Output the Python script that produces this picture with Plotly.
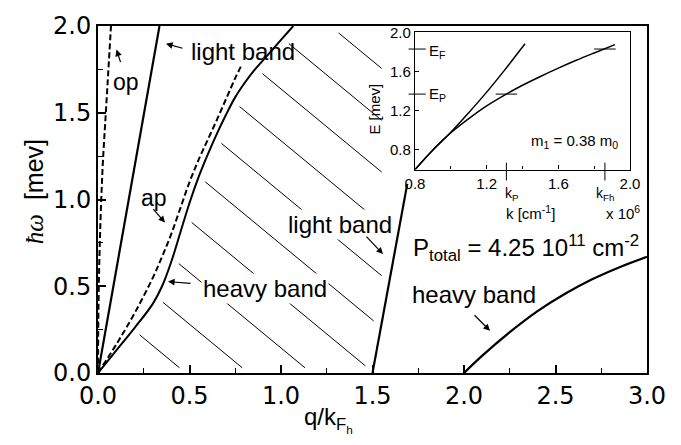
import numpy as np
import plotly.graph_objects as go

# ---------------- data ----------------
# main panel: q/k_Fh  vs  hbar*omega [meV]
op_q = [0.0, 0.003, 0.011, 0.025, 0.044, 0.071]
op_w = [0.0, 0.41, 0.79, 1.18, 1.52, 2.0]

light_up_q = [0.0, 0.166, 0.336]
light_up_w = [0.0, 1.0, 2.0]

ap_q = [0.0, 0.1, 0.2, 0.3, 0.35, 0.4, 0.45, 0.5, 0.55, 0.6, 0.65, 0.7, 0.75, 0.785]
ap_w = [0.0, 0.165, 0.345, 0.55, 0.67, 0.80, 0.95, 1.10, 1.23, 1.345, 1.46, 1.58, 1.70, 1.775]

heavy_q = [0.0, 0.1, 0.2, 0.3, 0.35, 0.4, 0.45, 0.5, 0.55, 0.6, 0.65, 0.7, 0.75,
           0.8, 0.85, 0.9, 0.95, 1.0, 1.067]
heavy_w = [0.0, 0.13, 0.26, 0.40, 0.50, 0.64, 0.81, 0.98, 1.13, 1.26, 1.38, 1.49, 1.59,
           1.67, 1.74, 1.80, 1.86, 1.92, 2.0]

light_lo_q = [1.5, 1.69]
light_lo_w = [0.0, 1.09]

heavy_lo_q = [2.0, 2.1, 2.25, 2.4, 2.55, 2.7, 2.85, 3.0]
heavy_lo_w = [0.0, 0.10, 0.235, 0.355, 0.455, 0.54, 0.61, 0.67]

# inset: k [10^6 cm^-1] vs E [meV]
inset_a_k = [0.8, 0.9, 1.0, 1.1, 1.2, 1.3, 1.414]
inset_a_E = [0.6, 0.80, 0.98, 1.18, 1.39, 1.615, 1.884]
inset_b_k = [0.8, 0.9, 1.0, 1.1, 1.2, 1.3, 1.4, 1.5, 1.6, 1.7, 1.8, 1.916]
inset_b_E = [0.6, 0.80, 0.975, 1.12, 1.25, 1.36, 1.46, 1.55, 1.635, 1.715, 1.79, 1.875]
E_F = 1.83
E_P = 1.37
k_P = 1.31
k_Fh = 1.86

main_xticks = [0.0, 0.5, 1.0, 1.5, 2.0, 2.5, 3.0]
main_yticks = [0.0, 0.5, 1.0, 1.5, 2.0]
inset_xticks = [0.8, 1.2, 1.6, 2.0]
inset_yticks = [0.8, 1.2, 1.6, 2.0]

# ---------------- geometry helpers ----------------
W, H = 681, 445
ML, MR, MT, MB = 98, 34, 20, 72
PW, PH = W - ML - MR, H - MT - MB


def px(x, y):
    """pixel position -> paper coordinates"""
    return (x - ML) / PW, (H - MB - y) / PH


BLACK = "black"
SANS = "Liberation Sans, Arial, sans-serif"
TICKF = "DejaVu Sans, sans-serif"

fig = go.Figure()

# ---------------- hatching (procedural) ----------------
h_slope = 0.871      # d(omega)/dq of hatch lines (negative direction)
h_b0, h_step, h_n = 0.418, 0.2986, 10
gap_curve, gap_line, q_cap, w_floor, w_top = 0.035, 0.04, 1.55, 0.03, 1.96
qq = np.linspace(0, 1.067, 2000)
hw = np.interp(qq, heavy_q, heavy_w)
m_lo = (light_lo_w[1] - light_lo_w[0]) / (light_lo_q[1] - light_lo_q[0])
hx, hy = [], []
for k in range(h_n):
    b = h_b0 + k * h_step
    diff = hw - (b - h_slope * qq)
    idx = np.where(diff >= 0)[0]
    q_int = qq[idx[0]] if len(idx) else (b - 2.0) / h_slope
    q_s = q_int + gap_curve
    if b - h_slope * q_s > w_top:
        q_s = (b - w_top) / h_slope
    q_bot = (b - w_floor) / h_slope
    q_lb = (b + m_lo * light_lo_q[0]) / (h_slope + m_lo) - gap_line
    q_e = min(q_bot, q_lb, q_cap)
    if q_e <= q_s:
        continue
    hx += [q_s, q_e, None]
    hy += [b - h_slope * q_s, b - h_slope * q_e, None]

fig.add_trace(go.Scatter(x=hx, y=hy, mode="lines", line=dict(color=BLACK, width=1),
                         hoverinfo="skip", showlegend=False))

# ---------------- main curves ----------------
dash = "6px,3px"
fig.add_trace(go.Scatter(x=op_q, y=op_w, mode="lines", line=dict(color=BLACK, width=2, dash=dash, shape="spline"), showlegend=False))
fig.add_trace(go.Scatter(x=light_up_q, y=light_up_w, mode="lines", line=dict(color=BLACK, width=2.2), showlegend=False))
fig.add_trace(go.Scatter(x=ap_q, y=ap_w, mode="lines", line=dict(color=BLACK, width=2, dash=dash, shape="spline"), showlegend=False))
fig.add_trace(go.Scatter(x=heavy_q, y=heavy_w, mode="lines", line=dict(color=BLACK, width=2, shape="spline"), showlegend=False))
fig.add_trace(go.Scatter(x=light_lo_q, y=light_lo_w, mode="lines", line=dict(color=BLACK, width=2.2), showlegend=False))
fig.add_trace(go.Scatter(x=heavy_lo_q, y=heavy_lo_w, mode="lines", line=dict(color=BLACK, width=2.2, shape="spline"), showlegend=False))

# ---------------- inset curves ----------------
fig.add_trace(go.Scatter(x=inset_a_k, y=inset_a_E, xaxis="x2", yaxis="y2", mode="lines",
                         line=dict(color=BLACK, width=1.5, shape="spline"), showlegend=False))
fig.add_trace(go.Scatter(x=inset_b_k, y=inset_b_E, xaxis="x2", yaxis="y2", mode="lines",
                         line=dict(color=BLACK, width=1.5, shape="spline"), showlegend=False))
# Fermi-point dashes on the heavy curve
fig.add_trace(go.Scatter(x=[k_P - 0.06, k_P + 0.06, None, k_Fh - 0.06, k_Fh + 0.06],
                         y=[E_P, E_P, None, E_F, E_F], xaxis="x2", yaxis="y2", mode="lines",
                         line=dict(color=BLACK, width=1), showlegend=False))

# ---------------- axes ----------------
common = dict(showgrid=False, zeroline=False, showline=True, linecolor=BLACK, linewidth=2,
              mirror=True, ticks="inside", tickcolor=BLACK, tickwidth=1.5, ticklen=8,
              tickfont=dict(family=TICKF, size=24, color=BLACK))
fig.update_layout(
    xaxis=dict(range=[0, 3], tickvals=main_xticks, ticktext=[f"{v:.1f}" for v in main_xticks],
               minor=dict(ticks="inside", ticklen=5, tickwidth=1, tickcolor=BLACK, dtick=0.25, tick0=0),
               domain=[0, 1], anchor="y", **common),
    yaxis=dict(range=[0, 2], tickvals=main_yticks, ticktext=[f"{v:.1f}" for v in main_yticks],
               minor=dict(ticks="inside", ticklen=5, tickwidth=1, tickcolor=BLACK, dtick=0.25, tick0=0),
               domain=[0, 1], anchor="x", **common),
)

ix0, iy0 = px(415, 166)
ix1, iy1 = px(630, 26.5)
inset_common = dict(showgrid=False, zeroline=False, showline=True, linecolor=BLACK, linewidth=1.2,
                    mirror=True, ticks="inside", tickcolor=BLACK, tickwidth=1, ticklen=4,
                    tickfont=dict(family=SANS, size=15, color=BLACK))
fig.update_layout(
    xaxis2=dict(range=[0.8, 2.0], tickvals=inset_xticks, ticktext=[f"{v:.1f}" for v in inset_xticks],
                minor=dict(ticks="inside", ticklen=3, tickwidth=1, tickcolor=BLACK, dtick=0.2, tick0=0.8),
                domain=[ix0, ix1], anchor="y2", **inset_common),
    yaxis2=dict(range=[0.6, 2.0], tickvals=inset_yticks, ticktext=[f"{v:.1f}" for v in inset_yticks],
                domain=[iy0, iy1], anchor="x2", **inset_common),
)

# inset markers: E_F, E_P on left axis, k_P, k_Fh below bottom axis
shapes = []
for e in (E_F, E_P):
    shapes.append(dict(type="line", xref="x2 domain", yref="y2", x0=-0.03, x1=0.05, y0=e, y1=e,
                       line=dict(color=BLACK, width=1)))
for kk in (k_P, k_Fh):
    shapes.append(dict(type="line", xref="x2", yref="y2 domain", x0=kk, x1=kk, y0=-0.08, y1=0.05,
                       line=dict(color=BLACK, width=1)))
fig.update_layout(shapes=shapes)

# ---------------- annotations ----------------
ann = []


def text(x, y, s, size=24, xanchor="center", angle=0, bg=None, family=SANS):
    X, Y = px(x, y)
    d = dict(x=X, y=Y, xref="paper", yref="paper", text=s, showarrow=False, xanchor=xanchor,
             yanchor="middle", textangle=angle, font=dict(family=family, size=size, color=BLACK))
    if bg:
        d["bgcolor"] = bg
    ann.append(d)


def arrow(tail, head):
    X, Y = px(*head)
    ann.append(dict(x=X, y=Y, xref="paper", yref="paper", text="", showarrow=True,
                    ax=tail[0] - head[0], ay=tail[1] - head[1], arrowhead=2, arrowsize=1.1,
                    arrowwidth=1.2, arrowcolor=BLACK, standoff=0, startstandoff=0))


text(126, 77, "op", size=23)
arrow((121, 58), (116.5, 44))
text(243, 46, "light band", size=24)
arrow((184, 43), (166, 38))
text(154, 195, "ap", size=23)
arrow((152, 205), (165, 220))
text(265, 287, "heavy band", size=24, bg="white")
arrow((192, 282), (168, 280))
text(340, 222, "light band", size=24, bg="white")
arrow((365, 233), (383, 252))
text(411, 246, "P<sub>total</sub> = 4.25 10<sup>11</sup> cm<sup>-2</sup>", size=24, xanchor="left")
text(474, 293, "heavy band", size=24)
arrow((473, 313), (490, 330))

# axis titles
text(34, 189, '<span style="font-family:Liberation Serif"><i>ħω</i></span>  [mev]', size=25, angle=-90)
text(302, 420, "q/k<sub>F<sub>h</sub></sub>", size=24, xanchor="left")

# inset texts
text(427, 46, "E<sub>F</sub>", size=15, xanchor="left")
text(427, 90, "E<sub>P</sub>", size=15, xanchor="left")
text(574, 138, "m<sub>1</sub> = 0.38 m<sub>0</sub>", size=15)
text(512, 191, "k<sub>P</sub>", size=14)
text(605, 191, "k<sub>Fh</sub>", size=14)
text(530, 210, "k [cm<sup>-1</sup>]", size=15)
text(623, 210, "x 10<sup>6</sup>", size=15)
text(375, 105, "E [mev]", size=15, angle=-90)

fig.update_layout(annotations=ann)

fig.update_layout(width=W, height=H, margin=dict(l=ML, r=MR, t=MT, b=MB, pad=0),
                  plot_bgcolor="white", paper_bgcolor="white", showlegend=False)

fig.write_html("out.html")
